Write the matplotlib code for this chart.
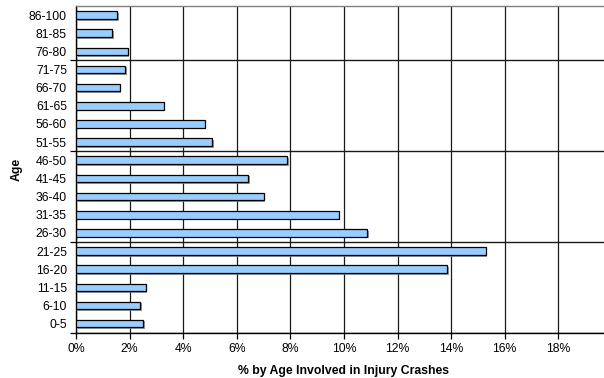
import matplotlib
matplotlib.use("Agg")
import matplotlib.pyplot as plt
import matplotlib.patheffects as pe
from matplotlib.ticker import FixedLocator, FuncFormatter

# Age groups (bottom to top) and share of injury crashes, in percent
age_groups = ["0-5", "6-10", "11-15", "16-20", "21-25", "26-30", "31-35",
              "36-40", "41-45", "46-50", "51-55", "56-60", "61-65", "66-70",
              "71-75", "76-80", "81-85", "86-100"]
pct_injury = [2.50, 2.40, 2.60, 13.84, 15.29, 10.86, 9.80, 7.00, 6.43,
              7.89, 5.09, 4.80, 3.27, 1.63, 1.83, 1.93, 1.34, 1.54]
x_ticks = [0, 2, 4, 6, 8, 10, 12, 14, 16, 18]

plt.rcParams["font.family"] = ["Liberation Sans", "DejaVu Sans"]

fig = plt.figure(figsize=(6.04, 3.78), dpi=100)
ax = fig.add_axes([0.1258, 0.1198, 0.8874, 0.8643])

pos = list(range(len(age_groups)))
bars = ax.barh(pos, pct_injury, height=0.42, color="#99CCFF",
               edgecolor="black", linewidth=0.9, zorder=3)
for b in bars:
    b.set_path_effects([pe.SimplePatchShadow(offset=(1.2, -1.2),
                                             shadow_rgbFace="#808080",
                                             alpha=0.8),
                        pe.Normal()])

ax.set_xlim(0, 20)
ax.set_ylim(-0.5, len(age_groups) - 0.5)

ax.set_xticks(x_ticks)
ax.xaxis.set_major_formatter(FuncFormatter(lambda v, p: f"{v:.0f}%"))
ax.tick_params(axis="x", direction="out", length=4, width=0.9,
               labelsize=8.8, pad=3.5, color="black")

ax.set_yticks(pos)
ax.set_yticklabels(age_groups)
ax.tick_params(axis="y", which="major", length=0, labelsize=8.8, pad=6.5)
ax.yaxis.set_minor_locator(FixedLocator([-0.5, 4.5, 9.5, 14.5]))
ax.tick_params(axis="y", which="minor", direction="out", length=4,
               width=0.9, color="black")

ax.grid(axis="x", which="major", color="#1a1a1a", linewidth=0.9, zorder=1)
ax.grid(axis="y", which="minor", color="#1a1a1a", linewidth=1.0, zorder=1)
ax.set_axisbelow(True)

ax.spines["left"].set_color("black")
ax.spines["bottom"].set_color("black")
ax.spines["left"].set_linewidth(1.0)
ax.spines["bottom"].set_linewidth(1.0)
ax.spines["top"].set_color("#808080")
ax.spines["top"].set_linewidth(1.0)
ax.spines["right"].set_visible(False)

ax.set_xlabel("% by Age Involved in Injury Crashes", fontsize=8.8,
              fontweight="bold")
ax.xaxis.set_label_coords(0.5, -0.098)
ax.set_ylabel("Age", fontsize=8.8, fontweight="bold")
ax.yaxis.set_label_coords(-0.099, 0.5)

fig.savefig("out.png", dpi=100)
